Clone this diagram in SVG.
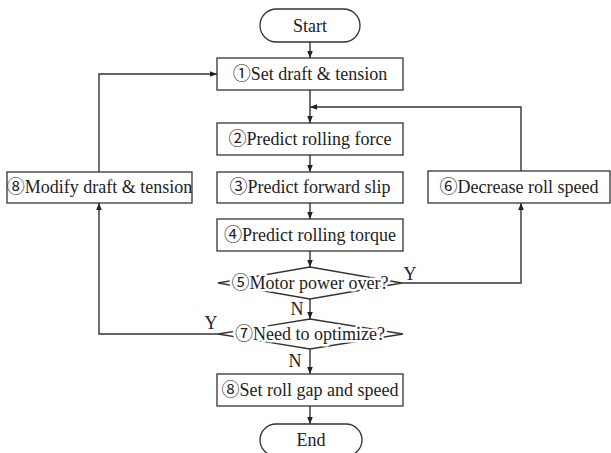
<svg xmlns="http://www.w3.org/2000/svg" width="611" height="453" viewBox="0 0 611 453">
<style>
.box{fill:#fff;stroke:#333;stroke-width:1.3}
.dia{fill:none;stroke:#333;stroke-width:1.3}
.ln{fill:none;stroke:#333;stroke-width:1.4}
text{font-family:"Liberation Serif","Noto Sans CJK SC",serif;font-size:18px;fill:#222}
.c{text-anchor:middle}
.halo{paint-order:stroke;stroke:#fff;stroke-width:5px;stroke-linejoin:round}
</style>
<defs>
<marker id="ah" viewBox="0 0 10 10" refX="10" refY="5" markerWidth="7" markerHeight="7" orient="auto" markerUnits="userSpaceOnUse">
<path d="M0,1 L10,5 L0,9 Z" fill="#222"/>
</marker>
</defs>
<g id="connectors">
<path class="ln" d="M310,42 V58" marker-end="url(#ah)"/>
<path class="ln" d="M310,90 V123" marker-end="url(#ah)"/>
<path class="ln" d="M521,171 V107 H310" marker-end="url(#ah)"/>
<path class="ln" d="M310,155 V172" marker-end="url(#ah)"/>
<path class="ln" d="M310,203 V219" marker-end="url(#ah)"/>
<path class="ln" d="M310,251 V267" marker-end="url(#ah)"/>
<path class="ln" d="M402,283 H521 V203" marker-end="url(#ah)"/>
<path class="ln" d="M310,299 V319" marker-end="url(#ah)"/>
<path class="ln" d="M218,334 H99 V203" marker-end="url(#ah)"/>
<path class="ln" d="M99,172 V74 H217" marker-end="url(#ah)"/>
<path class="ln" d="M310,349 V374" marker-end="url(#ah)"/>
<path class="ln" d="M310,406 V424" marker-end="url(#ah)"/>
<text x="410" y="280" class="c">Y</text>
<text x="211" y="329" class="c">Y</text>
<text x="297" y="315" class="c">N</text>
<text x="295" y="367" class="c">N</text>
</g>
<g id="start">
<rect class="box" x="260" y="9" width="100" height="33" rx="16.5"/>
<text x="310" y="32" class="c">Start</text>
</g>
<g id="n1">
<rect class="box" x="217" y="58" width="186" height="32"/>
<text x="310" y="80" class="c">①Set draft &amp; tension</text>
</g>
<g id="n2">
<rect class="box" x="217" y="123" width="186" height="32"/>
<text x="310" y="145" class="c">②Predict rolling force</text>
</g>
<g id="n3">
<rect class="box" x="217" y="172" width="186" height="31"/>
<text x="310" y="193" class="c">③Predict forward slip</text>
</g>
<g id="n4">
<rect class="box" x="217" y="219" width="186" height="32"/>
<text x="310" y="241" class="c">④Predict rolling torque</text>
</g>
<g id="n5">
<polygon class="dia" points="218,283 310,267 402,283 310,299"/>
<text x="310" y="289" class="c halo">⑤Motor power over?</text>
</g>
<g id="n6">
<rect class="box" x="428" y="171" width="182" height="32"/>
<text x="519" y="193" class="c">⑥Decrease roll speed</text>
</g>
<g id="n7">
<polygon class="dia" points="218,334 310,319 403,334 310,349"/>
<text x="310" y="340" class="c halo">⑦Need to optimize?</text>
</g>
<g id="n8m">
<rect class="box" x="7" y="172" width="185" height="31"/>
<text x="99.5" y="193" class="c">⑧Modify draft &amp; tension</text>
</g>
<g id="n8">
<rect class="box" x="217" y="374" width="186" height="32"/>
<text x="310" y="396" class="c">⑧Set roll gap and speed</text>
</g>
<g id="end">
<rect class="box" x="260" y="424" width="102" height="32" rx="16"/>
<text x="311" y="446" class="c">End</text>
</g>
</svg>
